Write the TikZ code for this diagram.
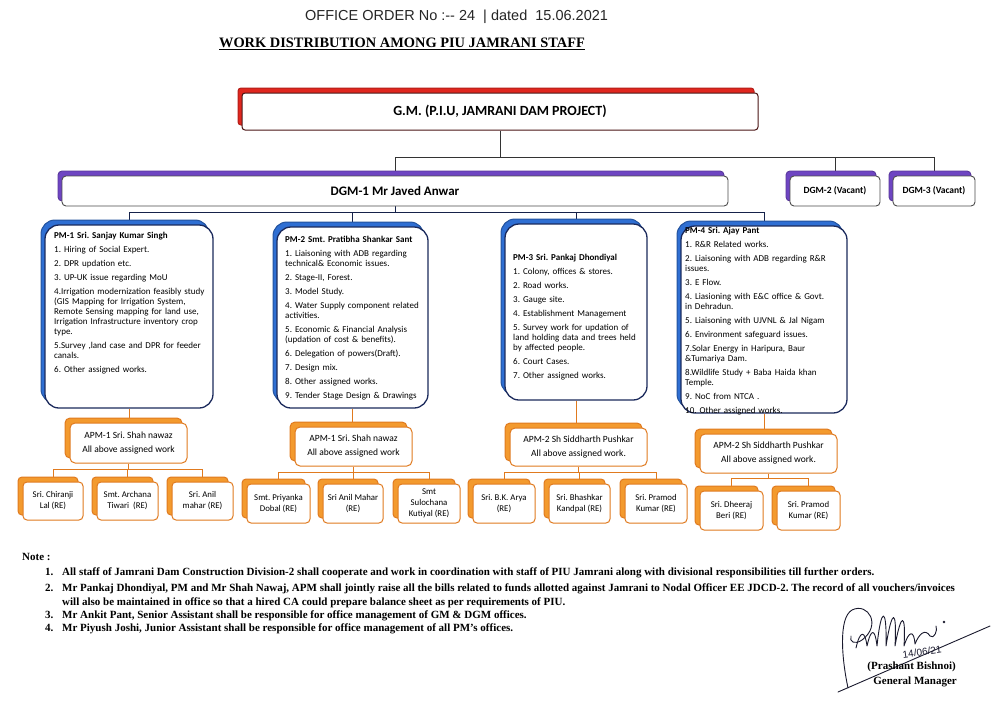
\documentclass[tikz,border=0pt]{standalone}
\usepackage{fontspec}
\setmainfont{Carlito}
\newfontfamily\tnr{Liberation Serif}
\newfontfamily\hand{Liberation Sans}
\usetikzlibrary{shadows}
\pgfdeclarelayer{paper}
\pgfdeclarelayer{bg}
\pgfsetlayers{paper,bg,main}
\definecolor{gmred}{HTML}{E0261E}
\definecolor{gmedge}{HTML}{4A1515}
\definecolor{dgmpurple}{HTML}{6E45C2}
\definecolor{pmblue}{HTML}{2F6FD3}
\definecolor{pmnavy}{HTML}{1B2A5C}
\definecolor{aorange}{HTML}{F39A2E}
\definecolor{aedge}{HTML}{E07A1F}
\definecolor{inkc}{HTML}{1A1A2E}
\setlength\parindent{0pt}
\frenchspacing
\newcommand\J[2]{\makebox[#1][s]{#2}}
\tikzset{
  gmbox/.style={draw=gmedge, line width=1pt, fill=white, rounded corners=3pt,
    font=\bfseries\fontsize{14}{14}\selectfont,
    copy shadow={shadow xshift=-4pt, shadow yshift=5pt, fill=gmred, draw=gmred!80!black}},
  dgmbox/.style={draw=black!70, line width=0.9pt, fill=white, rounded corners=4pt,
    copy shadow={shadow xshift=-4pt, shadow yshift=5pt, fill=dgmpurple, draw=dgmpurple!80!black}},
  pmbox/.style={draw=pmnavy, line width=1.3pt, fill=white, rounded corners=14pt,
    copy shadow={shadow xshift=-4pt, shadow yshift=5pt, fill=pmblue, draw=pmblue!75!black, line width=1pt}},
  pmtext/.style={inner sep=0pt, align=left, anchor=north west, font=\fontsize{9}{10}\selectfont},
  apmbox/.style={draw=aedge, line width=1pt, fill=white, rounded corners=5pt, align=center,
    font=\fontsize{9.5}{14}\selectfont, inner sep=1pt,
    copy shadow={shadow xshift=-5pt, shadow yshift=5pt, fill=aorange, draw=aedge}},
  rebox/.style={draw=aedge, line width=1pt, fill=white, rounded corners=4pt, align=center,
    font=\fontsize{8.8}{11}\selectfont, inner sep=1pt,
    copy shadow={shadow xshift=-5pt, shadow yshift=5pt, fill=aorange, draw=aedge}},
  topline/.style={draw=black!80, line width=0.9pt},
  pmline/.style={draw=pmnavy!80!black, line width=0.9pt},
  oline/.style={draw=aedge, line width=0.9pt},
  notetext/.style={inner sep=0pt, anchor=base west, font=\tnr\bfseries\fontsize{11}{12}\selectfont},
  sig/.style={draw=inkc, line width=0.9pt, line cap=round, line join=round}
}
\begin{document}
\begin{tikzpicture}[x=1pt,y=-1pt]
\useasboundingbox (0,0) rectangle (1000,715);
\begin{pgfonlayer}{paper}
\fill[white] (0,0) rectangle (1000,715);
\end{pgfonlayer}

% header
\node[inner sep=0pt, anchor=west, font=\hand\fontsize{14.5}{14.5}\selectfont, text=black!85] (order) at (305,17) {OFFICE ORDER No :-- 24 \ | dated \ 15.06.2021};
\node[inner sep=0pt, font=\tnr\bfseries\fontsize{14.4}{14.4}\selectfont] (title) at (402,44) {\underline{WORK DISTRIBUTION AMONG PIU JAMRANI STAFF}};

% GM and DGM
\node[gmbox, minimum width=516pt, minimum height=37pt] (gm) at (500,111.5) {G.M. (P.I.U, JAMRANI DAM PROJECT)};
\node[dgmbox, minimum width=666pt, minimum height=30pt, font=\bfseries\fontsize{13}{13}\selectfont] (dgm1) at (395,191) {DGM-1 Mr Javed Anwar};
\node[dgmbox, minimum width=90pt, minimum height=30pt, font=\bfseries\fontsize{9.5}{9.5}\selectfont] (dgm2) at (835,191) {DGM-2 (Vacant)};
\node[dgmbox, minimum width=82pt, minimum height=30pt, font=\bfseries\fontsize{9.5}{9.5}\selectfont] (dgm3) at (934,191) {DGM-3 (Vacant)};

% PM boxes
\node[pmbox, minimum width=168pt, minimum height=183pt] (pm1) at (129,316.5) {};
\node[pmbox, minimum width=151pt, minimum height=181pt] (pm2) at (352.5,317.5) {};
\node[pmbox, minimum width=142pt, minimum height=176pt] (pm3) at (576,312) {};
\node[pmbox, minimum width=166pt, minimum height=187pt] (pm4) at (764,319.5) {};

\node[pmtext, text width=150pt] (pm1t) at (54,232) {\textbf{PM-1 Sri. Sanjay Kumar Singh}\\[4pt]
1. Hiring of Social Expert.\\[4pt]
2. DPR updation etc.\\[4pt]
3. UP-UK issue regarding MoU\\[4pt]
\J{150pt}{4.Irrigation modernization feasibly study}\\
\J{150pt}{(GIS Mapping for Irrigation System,}\\
\J{150pt}{Remote Sensing mapping for land use,}\\
\J{150pt}{Irrigation Infrastructure inventory crop}\\
type.\\[4pt]
\J{150pt}{5.Survey ,land case and DPR for feeder}\\
canals.\\[4pt]
6. Other assigned works.};

\node[pmtext, text width=135pt] (pm2t) at (285,236) {\textbf{PM-2 Smt. Pratibha Shankar Sant}\\[4pt]
\J{135pt}{1. Liaisoning with ADB regarding}\\
technical\& Economic issues.\\[4pt]
2. Stage-II, Forest.\\[4pt]
3. Model Study.\\[4pt]
\J{135pt}{4. Water Supply component related}\\
activities.\\[4pt]
\J{135pt}{5. Economic \& Financial Analysis}\\
(updation of cost \& benefits).\\[4pt]
6. Delegation of powers(Draft).\\[4pt]
7. Design mix.\\[4pt]
8. Other assigned works.\\[4pt]
9. Tender Stage Design \& Drawings};

\node[pmtext, text width=126pt] (pm3t) at (513,254) {\textbf{PM-3 Sri. Pankaj Dhondiyal}\\[4pt]
1. Colony, offices \& stores.\\[4pt]
2. Road works.\\[4pt]
3. Gauge site.\\[4pt]
4. Establishment Management\\[4pt]
\J{126pt}{5. Survey work for updation of}\\
\J{126pt}{land holding data and trees held}\\
by affected people.\\[4pt]
6. Court Cases.\\[4pt]
7. Other assigned works.};

\node[pmtext, text width=152pt] (pm4t) at (685,227) {\textbf{PM-4 Sri. Ajay Pant}\\[4pt]
1. R\&R Related works.\\[4pt]
\J{152pt}{2. Liaisoning with ADB regarding R\&R}\\
issues.\\[4pt]
3. E Flow.\\[4pt]
\J{152pt}{4. Liasioning with E\&C office \& Govt.}\\
in Dehradun.\\[4pt]
5. Liaisoning with UJVNL \& Jal Nigam\\[4pt]
6. Environment safeguard issues.\\[4pt]
\J{152pt}{7.Solar Energy in Haripura, Baur}\\
\&Tumariya Dam.\\[4pt]
\J{152pt}{8.Wildlife Study + Baba Haida khan}\\
Temple.\\[4pt]
9. NoC from NTCA .\\[4pt]
10. Other assigned works.};

% APM boxes
\node[apmbox, minimum width=117pt, minimum height=40pt] (apm1) at (128.5,443) {APM-1 Sri. Shah nawaz\\All above assigned work};
\node[apmbox, minimum width=117pt, minimum height=39pt] (apm2) at (353.5,446.5) {APM-1 Sri. Shah nawaz\\All above assigned work};
\node[apmbox, minimum width=137pt, minimum height=38pt] (apm3) at (578.5,447) {APM-2 Sh Siddharth Pushkar\\All above assigned work.};
\node[apmbox, minimum width=137pt, minimum height=39pt] (apm4) at (768.5,453.5) {APM-2 Sh Siddharth Pushkar\\All above assigned work.};

% RE boxes
\node[rebox, minimum width=60pt, minimum height=38pt] (ra1) at (53,501) {Sri. Chiranji\\Lal (RE)};
\node[rebox, minimum width=61pt, minimum height=38pt] (ra2) at (127.5,501) {Smt. Archana\\Tiwari \ (RE)};
\node[rebox, minimum width=61pt, minimum height=38pt] (ra3) at (202.5,501) {Sri. Anil\\mahar (RE)};
\node[rebox, minimum width=63pt, minimum height=39pt] (rb1) at (278.5,503.5) {Smt. Priyanka\\Dobal (RE)};
\node[rebox, minimum width=60pt, minimum height=39pt] (rb2) at (353,503.5) {Sri Anil Mahar\\(RE)};
\node[rebox, minimum width=62pt, minimum height=39pt] (rb3) at (429,503.5) {Smt\\Sulochana\\Kutiyal (RE)};
\node[rebox, minimum width=62pt, minimum height=39pt] (rc1) at (504,503.5) {Sri. B.K. Arya\\(RE)};
\node[rebox, minimum width=61pt, minimum height=39pt] (rc2) at (579.5,503.5) {Sri. Bhashkar\\Kandpal (RE)};
\node[rebox, minimum width=62pt, minimum height=39pt] (rc3) at (656,503.5) {Sri. Pramod\\Kumar (RE)};
\node[rebox, minimum width=63pt, minimum height=39pt] (rd1) at (731.5,510.5) {Sri. Dheeraj\\Beri (RE)};
\node[rebox, minimum width=63pt, minimum height=39pt] (rd2) at (808.5,510.5) {Sri. Pramod\\Kumar (RE)};

% connectors
\begin{pgfonlayer}{bg}
\draw[topline] (gm.south) -- ++(0,27) coordinate (gj);
\draw[topline] (dgm1.north) |- (gj) -| (dgm3.north);
\draw[topline] (dgm2.north) -- (dgm2.north |- gj);
\draw[pmline] (dgm1.south) -- ++(0,6) coordinate (dj);
\draw[pmline] (pm1.north) |- (dj) -| (pm4.north);
\draw[pmline] (pm2.north) -- (pm2.north |- dj);
\draw[pmline] (pm3.north) -- (pm3.north |- dj);
\draw[oline] (pm1.south) -- (pm1.south |- apm1.north);
\draw[oline] (pm2.south) -- (pm2.south |- apm2.north);
\draw[oline] (pm3.south) -- (pm3.south |- apm3.north);
\draw[oline] (pm4.south) -- (pm4.south |- apm4.north);
\draw[oline] (apm1.south) -- ++(0,6) coordinate (aj1);
\draw[oline] (ra1.north) |- (aj1) -| (ra3.north);
\draw[oline] (ra2.north) -- (ra2.north |- aj1);
\draw[oline] (apm2.south) -- ++(0,6) coordinate (aj2);
\draw[oline] (rb1.north) |- (aj2) -| (rb3.north);
\draw[oline] (rb2.north) -- (rb2.north |- aj2);
\draw[oline] (apm3.south) -- ++(0,6) coordinate (aj3);
\draw[oline] (rc1.north) |- (aj3) -| (rc3.north);
\draw[oline] (rc2.north) -- (rc2.north |- aj3);
\draw[oline] (apm4.south) -- ++(0,5) coordinate (aj4);
\draw[oline] (rd1.north) |- (aj4) -| (rd2.north);
\end{pgfonlayer}

% notes
\node[notetext] (note0) at (22,560) {Note :};
\node[notetext] (n1a) at (45,575) {1.};
\node[notetext] (n1) at (62,575) {All staff of Jamrani Dam Construction Division-2 shall cooperate and work in coordination with staff of PIU Jamrani along with divisional responsibilities till further orders.};
\node[notetext] (n2a) at (45,591) {2.};
\node[notetext] (n2) at (62,591) {Mr Pankaj Dhondiyal, PM and Mr Shah Nawaj, APM shall jointly raise all the bills related to funds allotted against Jamrani to Nodal Officer EE JDCD-2. The record of all vouchers/invoices};
\node[notetext] (n2b) at (62,605) {will also be maintained in office so that a hired CA could prepare balance sheet as per requirements of PIU.};
\node[notetext] (n3a) at (45,618) {3.};
\node[notetext] (n3) at (62,618) {Mr Ankit Pant, Senior Assistant shall be responsible for office management of GM \& DGM offices.};
\node[notetext] (n4a) at (45,631) {4.};
\node[notetext] (n4) at (62,631) {Mr Piyush Joshi, Junior Assistant shall be responsible for office management of all PM’s offices.};

% signature
\draw[sig] (848,688) .. controls (842,660) and (838,618) .. (852,610) .. controls (868,602) and (882,625) .. (862,640) .. controls (855,645) and (849,642) .. (851,636);
\draw[sig] (856,648) .. controls (860,630) and (865,630) .. (867,646) .. controls (871,628) and (875,628) .. (877,646) .. controls (881,606) and (887,606) .. (886,646) .. controls (892,608) and (897,608) .. (895,646) .. controls (901,612) and (906,612) .. (904,646) .. controls (909,630) and (914,630) .. (915,644) .. controls (919,634) and (925,628) .. (930,636) .. controls (934,640) and (938,630) .. (936,626);
\fill[inkc] (944,622) circle (1.3pt);
\draw[sig] (838,692) -- (990,626);
\node[inner sep=0pt, font=\hand\fontsize{10}{10}\selectfont, text=inkc, rotate=8] (sigdate) at (922,652) {14/06/21};
\node[inner sep=0pt, anchor=base east, font=\tnr\bfseries\fontsize{11}{12}\selectfont] (sname) at (956,669) {(Prashant Bishnoi)};
\node[inner sep=0pt, anchor=base east, font=\tnr\bfseries\fontsize{11}{12}\selectfont] (srole) at (957,684) {General Manager};
\end{tikzpicture}
\end{document}
